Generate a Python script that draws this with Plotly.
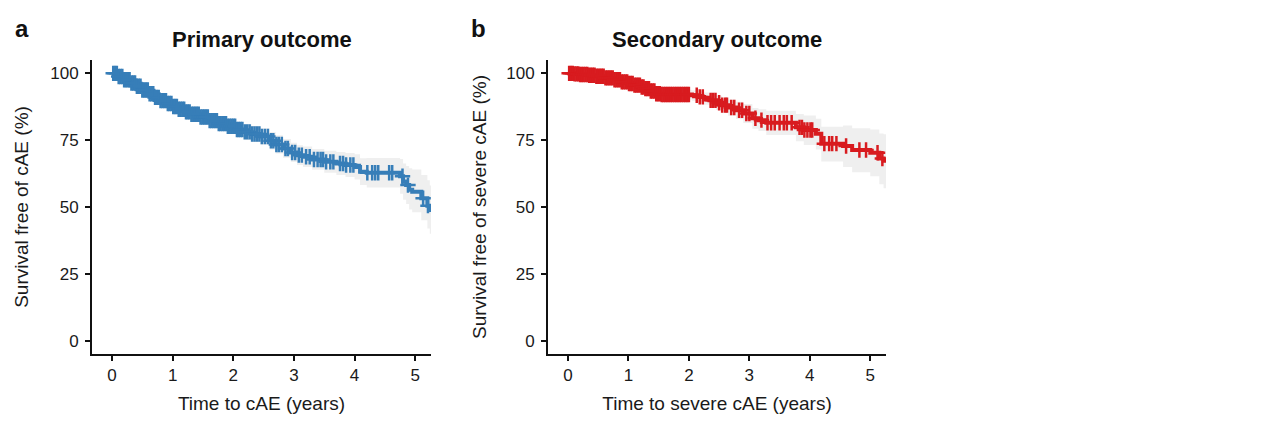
import numpy as np
import plotly.graph_objects as go

# ---------------- data ----------------
x_ticks = [0, 1, 2, 3, 4, 5]
y_ticks = [0, 25, 50, 75, 100]

primary_time = [0, 0.1, 0.2, 0.3, 0.4, 0.5, 0.6, 0.7, 0.8, 0.9,
                1.0, 1.1, 1.2, 1.3, 1.45, 1.6, 1.75, 1.9, 2.05, 2.16,
                2.3, 2.45, 2.6, 2.7, 2.82, 2.95, 3.05, 3.15, 3.3, 3.5,
                3.7, 3.85, 4.0, 4.09, 4.2, 4.75, 4.8, 4.85, 4.9, 4.95,
                5.1, 5.2, 5.24]
primary_surv = [100, 98.8, 97.6, 96.4, 95.2, 93.8, 92.4, 91.0, 89.8, 88.7,
                87.6, 86.6, 85.6, 84.7, 83.7, 82.3, 81.2, 80.2, 79.0, 78.1,
                77.3, 76.4, 74.8, 73.4, 71.9, 70.4, 69.4, 68.8, 67.8, 66.9,
                66.3, 65.7, 65.0, 63.2, 62.8, 61.5, 59.5, 58.2, 56.5, 55.7,
                53.3, 50.5, 48.9]
primary_upper = [100, 99.6, 98.6, 97.6, 96.5, 95.3, 94.0, 92.7, 91.6, 90.6,
                 89.6, 88.7, 87.8, 87.0, 86.1, 84.8, 83.8, 82.9, 81.8, 81.0,
                 80.3, 79.5, 78.1, 76.8, 75.4, 74.0, 73.1, 72.6, 71.7, 71.0,
                 70.6, 70.2, 69.7, 68.2, 68.3, 68.0, 66.3, 65.3, 64.5, 64.0,
                 62.0, 60.0, 58.0]
primary_lower = [100, 98.0, 96.6, 95.2, 93.9, 92.3, 90.8, 89.3, 88.0, 86.8,
                 85.6, 84.5, 83.4, 82.4, 81.3, 79.8, 78.6, 77.5, 76.2, 75.2,
                 74.3, 73.3, 71.5, 70.0, 68.4, 66.8, 65.7, 65.0, 63.9, 62.8,
                 62.0, 61.2, 60.3, 58.2, 57.3, 55.0, 52.7, 51.1, 49.1, 48.0,
                 45.0, 42.0, 40.0]
primary_censor = [0.02, 0.05, 0.08, 0.11, 0.14, 0.17, 0.2, 0.23, 0.26, 0.29,
                  0.32, 0.35, 0.38, 0.41, 0.44, 0.47, 0.5, 0.53, 0.56, 0.59,
                  0.62, 0.65, 0.68, 0.71, 0.74, 0.77, 0.8, 0.83, 0.86, 0.89,
                  0.92, 0.95, 0.98, 1.01, 1.04, 1.07, 1.1, 1.13, 1.16, 1.19,
                  1.22, 1.25, 1.28, 1.31, 1.34, 1.37, 1.4, 1.43, 1.46, 1.49,
                  1.52, 1.55, 1.58, 1.61, 1.64, 1.67, 1.7, 1.73, 1.76, 1.79,
                  1.82, 1.85, 1.88, 1.91, 1.94, 1.97, 2.0, 2.03, 2.06, 2.09,
                  2.12, 2.15, 2.19, 2.23, 2.27, 2.31, 2.35, 2.39, 2.43, 2.47,
                  2.52, 2.57, 2.62, 2.66, 2.71, 2.75, 2.8, 2.86, 2.9, 2.97,
                  3.02, 3.08, 3.13, 3.2, 3.26, 3.33, 3.39, 3.44,
                  3.48, 3.53, 3.6, 3.65, 3.76, 3.81, 3.86, 3.93, 3.98,
                  4.21, 4.29, 4.34, 4.39, 4.57, 4.62, 4.79, 4.88, 5.13, 5.21]

secondary_time = [0, 0.1, 0.2, 0.33, 0.45, 0.6, 0.75, 0.89, 1.0, 1.1,
                  1.2, 1.27, 1.35, 1.44, 1.55, 2.05, 2.15, 2.25, 2.34, 2.45,
                  2.55, 2.65, 2.78, 2.9, 3.05, 3.15, 3.28, 3.77, 3.9, 4.1,
                  4.19, 4.55, 4.7, 5.0, 5.15, 5.22]
secondary_surv = [100, 99.8, 99.6, 99.3, 98.9, 98.3, 97.6, 96.8, 96.2, 95.6,
                  94.9, 94.3, 93.4, 92.4, 92.1, 91.8, 91.2, 90.6, 89.9, 89.0,
                  88.1, 87.2, 86.2, 85.0, 83.2, 82.5, 81.5, 79.8, 78.8, 77.4,
                  73.7, 72.8, 71.3, 70.3, 68.1, 67.3]
secondary_upper = [100, 100, 100, 99.9, 99.6, 99.2, 98.6, 97.9, 97.4, 96.9,
                   96.3, 95.8, 95.0, 94.1, 93.9, 93.7, 93.2, 92.8, 92.3, 91.6,
                   90.9, 90.2, 89.4, 88.5, 87.0, 86.6, 86.0, 84.8, 84.2, 83.0,
                   80.0, 80.5, 79.5, 79.0, 77.5, 77.2]
secondary_lower = [100, 99.4, 99.0, 98.6, 98.1, 97.3, 96.5, 95.6, 94.9, 94.2,
                   93.4, 92.7, 91.7, 90.6, 90.2, 89.8, 89.1, 88.3, 87.4, 86.3,
                   85.2, 84.1, 82.9, 81.4, 79.3, 78.4, 76.9, 74.6, 73.2, 71.5,
                   67.0, 65.0, 63.0, 61.5, 58.5, 57.0]
secondary_censor = [0.02, 0.05, 0.08, 0.11, 0.14, 0.17, 0.2, 0.23, 0.26, 0.29,
                    0.32, 0.35, 0.38, 0.41, 0.44, 0.47, 0.5, 0.53, 0.56, 0.59,
                    0.62, 0.65, 0.68, 0.71, 0.74, 0.77, 0.8, 0.83, 0.86, 0.89,
                    0.92, 0.95, 0.98, 1.01, 1.04, 1.07, 1.1, 1.13, 1.16, 1.19,
                    1.22, 1.25, 1.28, 1.31, 1.34, 1.37, 1.4, 1.43, 1.46, 1.49,
                    1.52, 1.55, 1.58, 1.61, 1.64, 1.67, 1.7, 1.73, 1.76, 1.79,
                    1.82, 1.85, 1.88, 1.91, 1.94, 1.97, 2.0,
                    2.13, 2.18, 2.23, 2.36, 2.4, 2.44, 2.5, 2.55, 2.6, 2.63,
                    2.7, 2.75, 2.83, 2.88, 2.95, 3.0, 3.1, 3.2, 3.3, 3.36,
                    3.42, 3.5, 3.57, 3.62, 3.7, 3.83, 3.87, 3.91, 3.96, 4.01,
                    4.04, 4.24, 4.32, 4.37, 4.44, 4.6, 4.82, 4.93, 5.12, 5.2]

BLUE = "#377EB8"
RED = "#D81B1F"
BAND = "#EFEFEF"
FONT = "Liberation Sans, Arial, sans-serif"


def step_value(times, surv, t):
    idx = np.searchsorted(np.array(times), np.array(t), side="right") - 1
    return np.array(surv)[idx]


fig = go.Figure()


def add_panel(times, surv, upper, lower, censor, color, xa, ya):
    x_end = 5.26
    tt = list(times) + [x_end]
    up = list(upper) + [upper[-1]]
    lo = list(lower) + [lower[-1]]
    sv = list(surv) + [surv[-1]]
    fig.add_trace(go.Scatter(x=tt, y=lo, mode="lines", line=dict(width=0, shape="hv"),
                             xaxis=xa, yaxis=ya, showlegend=False, hoverinfo="skip"))
    fig.add_trace(go.Scatter(x=tt, y=up, mode="lines", line=dict(width=0, shape="hv"),
                             fill="tonexty", fillcolor=BAND,
                             xaxis=xa, yaxis=ya, showlegend=False, hoverinfo="skip"))
    fig.add_trace(go.Scatter(x=tt, y=sv, mode="lines", line=dict(width=4, shape="hv", color=color),
                             xaxis=xa, yaxis=ya, showlegend=False))
    cy = step_value(times, surv, censor)
    fig.add_trace(go.Scatter(x=censor, y=cy, mode="markers",
                             marker=dict(symbol="cross-thin", size=11,
                                         line=dict(width=2.5, color=color)),
                             xaxis=xa, yaxis=ya, showlegend=False))


add_panel(primary_time, primary_surv, primary_upper, primary_lower, primary_censor, BLUE, "x", "y")
add_panel(secondary_time, secondary_surv, secondary_upper, secondary_lower, secondary_censor, RED, "x2", "y2")

W, H = 1264, 430
ydom = [(H - 354) / H, (H - 60) / H]

axis_common = dict(showgrid=False, zeroline=False, showline=True, linecolor="#111111",
                   linewidth=2, ticks="outside", ticklen=5, tickwidth=1.5, tickcolor="#111111",
                   tickfont=dict(family=FONT, size=17, color="#1a1a1a"))
TITLE_FONT = dict(family=FONT, size=19, color="#1a1a1a")

fig.update_layout(
    width=W, height=H,
    margin=dict(l=0, r=0, t=0, b=0),
    paper_bgcolor="white", plot_bgcolor="white",
    font=dict(family=FONT, color="#1a1a1a"),
    xaxis=dict(domain=[92 / W, 431 / W], range=[-0.33, 5.26], tickvals=x_ticks,
               title=dict(text="Time to cAE (years)", font=TITLE_FONT, standoff=12),
               anchor="y", **axis_common),
    yaxis=dict(domain=ydom, range=[-5, 105], tickvals=y_ticks, ticklabelstandoff=3,
               title=dict(text="Survival free of cAE (%)", font=TITLE_FONT, standoff=17),
               anchor="x", **axis_common),
    xaxis2=dict(domain=[548 / W, 886 / W], range=[-0.33, 5.26], tickvals=x_ticks,
                title=dict(text="Time to severe cAE (years)", font=TITLE_FONT, standoff=12),
                anchor="y2", **axis_common),
    yaxis2=dict(domain=ydom, range=[-5, 105], tickvals=y_ticks, ticklabelstandoff=3,
                title=dict(text="Survival free of severe cAE (%)", font=TITLE_FONT, standoff=15),
                anchor="x2", **axis_common),
)

annotations = [
    dict(text="<b>a</b>", x=13 / W, y=1 - 28 / H, xanchor="left", yanchor="middle",
         font=dict(family=FONT, size=24, color="#111111")),
    dict(text="<b>b</b>", x=469 / W, y=1 - 28 / H, xanchor="left", yanchor="middle",
         font=dict(family=FONT, size=24, color="#111111")),
    dict(text="<b>Primary outcome</b>", x=261.5 / W, y=1 - 39 / H, xanchor="center", yanchor="middle",
         font=dict(family=FONT, size=22, color="#111111")),
    dict(text="<b>Secondary outcome</b>", x=717 / W, y=1 - 39 / H, xanchor="center", yanchor="middle",
         font=dict(family=FONT, size=22, color="#111111")),
]
for a in annotations:
    a.update(xref="paper", yref="paper", showarrow=False)
fig.update_layout(annotations=annotations)

fig.write_html("out.html")
